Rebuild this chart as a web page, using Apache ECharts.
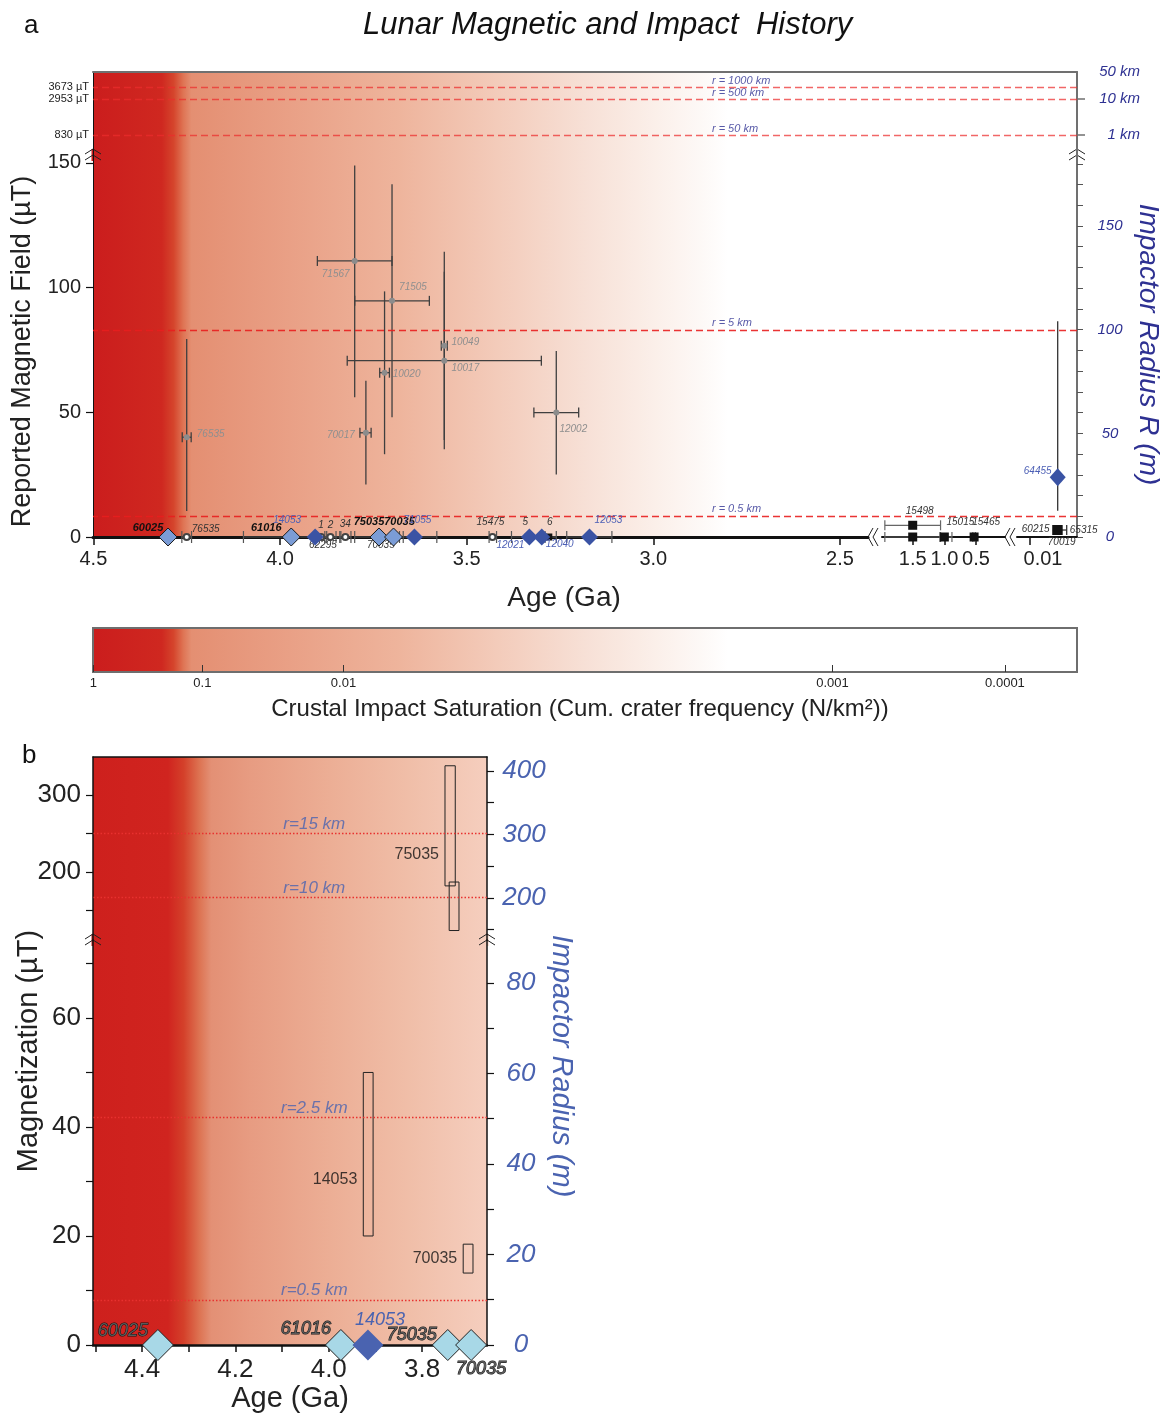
<!DOCTYPE html>
<html>
<head>
<meta charset="utf-8">
<script src="https://cdn.jsdelivr.net/npm/echarts@6/dist/echarts.min.js"></script>
<style>
  html, body { margin: 0; background: #fff; }
  #container { width: 1162px; height: 1414px; }
</style>
</head>
<body>
<div id="container"></div>
<script>
const FONT = 'Liberation Sans, Arial, Helvetica, sans-serif';
const BLUE = '#2e3192';
const BLUE_B = '#4a63b0';

// ---- panel a: samples with a field estimate (age Ga, field uT, error ranges)
const fieldSample = ['71567', '71505', '10049', '10017', '10020', '70017', '12002', '76535'];
const fieldAge = [3.80, 3.70, 3.56, 3.56, 3.72, 3.77, 3.26, 4.25];
const fieldAgeOld = [3.90, 3.80, 3.568, 3.82, 3.733, 3.786, 3.32, 4.262];
const fieldAgeYoung = [3.70, 3.60, 3.552, 3.30, 3.707, 3.756, 3.20, 4.238];
const fieldValue = [110.7, 94.7, 76.7, 70.7, 65.9, 41.8, 49.9, 40.0];
const fieldLow = [56, 48, 38.9, 35.2, 33.2, 21.1, 25.1, 10.4];
const fieldHigh = [149, 141.5, 114.4, 106.4, 98.5, 62.7, 74.6, 79.4];

// ---- panel a: null / weak-field samples sitting at 0 uT
const nullLightSample = ['60025', '61016', '75035', '70035'];
const nullLightAge = [4.30, 3.97, 3.735, 3.696];
const nullDarkSample = ['14053', '71055', '12021', '12040', '12053'];
const nullDarkAge = [3.906, 3.64, 3.332, 3.299, 3.171];
const nullCircleSample = ['76535', '1', '2', '34', '15475'];
const nullCircleAge = [4.25, 3.89, 3.865, 3.825, 3.431];
const nullSquareSample = ['5', '6'];
const nullSquareAge = [3.335, 3.28];
const nullBarOld = [4.263, 4.098, 3.905, 3.88, 3.84, 3.80, 3.68, 3.44, 3.38, 3.30, 3.232];
const nullBarYoung = [4.237, 3.837, 3.875, 3.85, 3.81, 3.67, 3.58, 3.42, 3.29, 3.26, 3.111];
const extraSample = ['62295', '70035'];
const extraAge = [3.885, 3.73];

// ---- panel a: young samples (second and third age segments)
const youngSample = ['15498', '', '15015', '15465'];
const youngAge = [1.5, 1.5, 1.0, 0.53];
const youngField = [4.7, 0, 0, 0];
const youngAgeOld = [1.94, 1.94, 1.07, 0.55];
const youngAgeYoung = [1.06, 1.06, 0.88, 0.51];
const recentSample = ['60215', '70019', '65315'];
const recentAge = [0.002];
const recentField = [2.8];
const recentAgeOld = [0.0034];
const recentAgeYoung = [-0.0006];
const recentDiamond = ['64455'];
const recentDiamondAge = [0.002];
const recentDiamondField = [24];
const recentDiamondLow = [10.5];
const recentDiamondHigh = [86.5];

// ---- panel a: impactor-size field levels
const bigField = [3673, 2953, 830];
const bigRadius = ['r = 1000 km', 'r = 500 km', 'r = 50 km'];
const smallField = [83, 8.3];
const smallRadius = ['r = 5 km', 'r = 0.5 km'];
const kmTickField = [4561, 2953, 830];
const kmTickLabel = ['50 km', '10 km', '1 km'];

// ---- colour bar: cumulative crater frequency against age
const satTickLabel = ['1', '0.1', '0.01', '0.001', '0.0001'];
const satTickAge = [4.5, 4.208, 3.83, 2.52, 2.058];

// ---- panel b
const bLightSample = ['60025', '61016', '75035', '70035'];
const bLightAge = [4.366, 3.974, 3.745, 3.695];
const bDarkSample = ['14053'];
const bDarkAge = [3.916];
const boxSample = ['75035', '', '14053', '70035'];
const boxAgeOld = [3.751, 3.742, 3.926, 3.712];
const boxAgeYoung = [3.729, 3.721, 3.905, 3.691];
const boxLow = [182, 124, 20, 13.2];
const boxHigh = [338, 187, 50, 18.5];
const boxLabelField = [223, 0, 30.3, 15.8];
const bRadiusField = [250, 167.5, 41.7, 8.3];
const bRadiusLabel = ['r=15 km', 'r=10 km', 'r=2.5 km', 'r=0.5 km'];

// ---- layout only (label offsets in px, label anchor ages)
const fieldLabelOffset = [[-19, 13], [21, -14], [21, -4], [21, 8], [22, 2], [-25, 2], [17, 17], [24, -3]];
const nullLightOffset = [[-20, -9], [-25, -9], [-10, -15], [6, -15]];
const nullDarkOffset = [[-28, -17], [3, -17], [-19, 8], [18, 7], [19, -17]];
const nullCircleOffset = [[19, -8], [0, -12], [0, -12], [0, -13], [-2, -15]];
const nullSquareOffset = [[-3, -15], [1, -15]];
const extraOffset = [[0, 8], [0, 8]];
const youngOffset = [[7, -14], [0, 0], [16, -15], [12, -15]];
const recentOffset = [[-22, -1], [4, 12], [26, 0]];
const recentDiamondOffset = [[-20, -6]];
const bLightOffset = [[-35, -14], [-35, -16], [-36, -10], [10, 24]];
const bDarkOffset = [[12, -25]];
const rLabelAgeA = 2.843;
const rLabelAgeB = 4.031;

const pick = (vals, labels) => v =>
  labels[vals.reduce((b, x, i) => (Math.abs(x - v) < Math.abs(vals[b] - v) ? i : b), 0)];

const gradA = new echarts.graphic.LinearGradient(93, 0, 1077, 0, [
  { offset: 0, color: '#cb1d1d' }, { offset: 0.07, color: '#cf2820' },
  { offset: 0.082, color: '#d5452c' }, { offset: 0.092, color: '#df7555' },
  { offset: 0.1, color: '#e48f72' }, { offset: 0.2, color: '#e9a086' },
  { offset: 0.31, color: '#eeb49c' }, { offset: 0.41, color: '#f3cbba' },
  { offset: 0.5, color: '#f7e0d6' }, { offset: 0.57, color: '#fbefe9' },
  { offset: 0.62, color: '#fdf9f7' }, { offset: 0.645, color: '#ffffff' },
  { offset: 1, color: '#ffffff' }
], true);
const gradB = new echarts.graphic.LinearGradient(93, 0, 487, 0, [
  { offset: 0, color: '#ce201d' }, { offset: 0.19, color: '#d0241f' },
  { offset: 0.23, color: '#d4402a' }, { offset: 0.27, color: '#dd7352' },
  { offset: 0.3, color: '#e39075' }, { offset: 0.4, color: '#e79c82' },
  { offset: 0.6, color: '#ecae95' }, { offset: 0.8, color: '#f0bea8' },
  { offset: 1, color: '#f5cebe' }
], true);

const errorBars = (color, width, cap) => (params, api) => {
  const p = api.coord([api.value(0), api.value(1)]);
  const h0 = api.coord([api.value(2), api.value(1)])[0];
  const h1 = api.coord([api.value(3), api.value(1)])[0];
  const v0 = api.coord([api.value(0), api.value(4)])[1];
  const v1 = api.coord([api.value(0), api.value(5)])[1];
  const style = { stroke: color, lineWidth: width };
  const kids = [];
  if (Math.abs(h1 - h0) > 0.5) {
    kids.push({ type: 'line', shape: { x1: h0, y1: p[1], x2: h1, y2: p[1] }, style });
    kids.push({ type: 'line', shape: { x1: h0, y1: p[1] - cap, x2: h0, y2: p[1] + cap }, style });
    kids.push({ type: 'line', shape: { x1: h1, y1: p[1] - cap, x2: h1, y2: p[1] + cap }, style });
  }
  if (Math.abs(v1 - v0) > 0.5) {
    kids.push({ type: 'line', shape: { x1: p[0], y1: v0, x2: p[0], y2: v1 }, style });
  }
  return { type: 'group', children: kids };
};

const boxRender = (params, api) => {
  const a = api.coord([api.value(0), api.value(3)]);
  const b = api.coord([api.value(1), api.value(2)]);
  return {
    type: 'rect',
    shape: { x: a[0], y: a[1], width: b[0] - a[0], height: b[1] - a[1] },
    style: { fill: 'none', stroke: '#222', lineWidth: 1 }
  };
};

const custom = (axes, rows, render, z) => ({
  type: 'custom', xAxisIndex: axes[0], yAxisIndex: axes[1], silent: true, clip: false,
  z: z || 3, encode: { x: 0, y: 1 }, renderItem: render, data: rows
});

const points = (names, ages, fields, offsets, axes, symbol, size, itemStyle, label, z) => ({
  type: 'scatter', xAxisIndex: axes[0], yAxisIndex: axes[1], symbol, symbolSize: size,
  itemStyle: Object.assign({ opacity: 1 }, itemStyle), silent: true, clip: false, z: z || 5,
  label: Object.assign({ show: true, position: 'inside', formatter: '{b}' }, label),
  data: names.map((n, i) => ({ name: n, value: [ages[i], fields[i]], label: { offset: offsets[i] } }))
});

const levelLines = (axes, fields, labels, labelAge, lineStyle, label, offset) => ({
  type: 'scatter', xAxisIndex: axes[0], yAxisIndex: axes[1], symbolSize: 0, silent: true,
  clip: false, z: 4,
  label: Object.assign({ show: true, position: 'inside', formatter: '{b}', offset }, label),
  data: fields.map((v, i) => ({ name: labels[i], value: [labelAge, v] })),
  markLine: {
    silent: true, symbol: 'none', animation: false, label: { show: false },
    lineStyle, data: fields.map(v => ({ yAxis: v }))
  }
});

const zeros = arr => arr.map(() => 0);
const noSplit = { splitLine: { show: false } };
const line = (color, width) => ({ show: true, onZero: false, lineStyle: { color, width } });
const hidden = extra => Object.assign({ type: 'value', show: false, splitLine: { show: false } }, extra);
const nameOnly = extra => Object.assign({
  type: 'value', axisLine: { show: false, onZero: false }, axisTick: { show: false },
  axisLabel: { show: false }, splitLine: { show: false }
}, extra);
const box = (extra) => Object.assign({ outerBoundsMode: 'none', containLabel: false }, extra);

const labGray = { color: '#8f8f8f', fontStyle: 'italic', fontSize: 10 };
const labDark = { color: '#333', fontStyle: 'italic', fontSize: 10 };
const labBold = { color: '#111', fontStyle: 'italic', fontWeight: 'bold', fontSize: 11 };
const labBlue = { color: '#4c5fb5', fontStyle: 'italic', fontSize: 10 };

const segTicks = [4.5, 4.0, 3.5, 3.0, 2.5];
const youngTicks = [1.5, 1.0, 0.5];
const recentTicks = [0.01];
const rTicksA = [0, 10, 20, 30, 40, 50, 60, 70, 80, 90, 100, 110, 120, 130, 140, 150, 160, 170, 180];
const bAgeTicks = [4.5, 4.4, 4.3, 4.2, 4.1, 4.0, 3.9, 3.8, 3.7];

const xTickStyle = { show: true, length: 8, lineStyle: { color: '#111', width: 1.5 } };
const xLab = { fontSize: 20, color: '#222', margin: 12 };

const breakV = (cx, cy, color) => ({
  type: 'group', x: cx, y: cy, z: 100, silent: true,
  children: [
    { type: 'rect', shape: { x: -1.5, y: -6, width: 3, height: 12 }, style: { fill: color } },
    { type: 'polyline', shape: { points: [[-8, -1], [0, -6], [8, -1]] }, style: { stroke: '#222', lineWidth: 1, fill: 'none' } },
    { type: 'polyline', shape: { points: [[-8, 5], [0, 0], [8, 5]] }, style: { stroke: '#222', lineWidth: 1, fill: 'none' } }
  ]
});
const breakH = (cx, cy) => ({
  type: 'group', x: cx, y: cy, z: 100, silent: true,
  children: [
    { type: 'polyline', shape: { points: [[0, -9], [-5, 0], [0, 9]] }, style: { stroke: '#222', lineWidth: 1, fill: 'none' } },
    { type: 'polyline', shape: { points: [[5, -9], [0, 0], [5, 9]] }, style: { stroke: '#222', lineWidth: 1, fill: 'none' } }
  ]
});

const chart = echarts.init(document.getElementById('container'));

const option = {
  animation: false,
  backgroundColor: '#fff',
  textStyle: { fontFamily: FONT },
  title: [
    { text: 'Lunar Magnetic and Impact  History', left: 358, top: 5,
      textStyle: { fontFamily: FONT, fontStyle: 'italic', fontWeight: 'normal', fontSize: 31, color: '#111' } },
    { text: 'a', left: 19, top: 8, textStyle: { fontFamily: FONT, fontWeight: 'normal', fontSize: 26, color: '#111' } },
    { text: 'b', left: 17, top: 738, textStyle: { fontFamily: FONT, fontWeight: 'normal', fontSize: 26, color: '#111' } }
  ],
  grid: [
    box({ left: 93, top: 72, width: 984, height: 80, show: true, backgroundColor: gradA, borderWidth: 0 }),
    box({ left: 93, top: 152, width: 984, height: 385, show: true, backgroundColor: gradA, borderWidth: 0 }),
    box({ left: 93, top: 152, width: 775, height: 385 }),
    box({ left: 882, top: 152, width: 123, height: 385 }),
    box({ left: 1017, top: 152, width: 60, height: 385 }),
    box({ left: 93, top: 628, width: 984, height: 44, show: true, backgroundColor: gradA, borderColor: '#6e6e6e', borderWidth: 2 }),
    box({ left: 93, top: 757, width: 394, height: 183, show: true, backgroundColor: gradB, borderWidth: 0 }),
    box({ left: 93, top: 940, width: 394, height: 405, show: true, backgroundColor: gradB, borderWidth: 0 }),
    box({ left: 93, top: 757, width: 394, height: 588 })
  ],
  xAxis: [
    Object.assign({ type: 'value', gridIndex: 0, min: 1.865, max: 4.501, inverse: true, position: 'top',
      axisLine: line('#707070', 2), axisTick: { show: false }, axisLabel: { show: false } }, noSplit),
    nameOnly({ gridIndex: 1, min: 1.865, max: 4.501, inverse: true,
      name: 'Age (Ga)', nameLocation: 'middle', nameGap: 47,
      nameTextStyle: { fontSize: 28, color: '#222', padding: [0, 42, 0, 0] } }),
    Object.assign({ type: 'value', gridIndex: 2, min: 2.425, max: 4.501, inverse: true,
      axisLine: line('#111', 3),
      axisTick: Object.assign({ customValues: segTicks }, xTickStyle),
      axisLabel: Object.assign({ customValues: segTicks, formatter: v => v.toFixed(1) }, xLab) }, noSplit),
    Object.assign({ type: 'value', gridIndex: 3, min: 0.042, max: 1.985, inverse: true,
      axisLine: line('#111', 2),
      axisTick: Object.assign({ customValues: youngTicks }, xTickStyle),
      axisLabel: Object.assign({ customValues: youngTicks, formatter: v => v.toFixed(1) }, xLab) }, noSplit),
    Object.assign({ type: 'value', gridIndex: 4, min: -0.003576, max: 0.013755, inverse: true,
      axisLine: line('#111', 2),
      axisTick: Object.assign({ customValues: recentTicks }, xTickStyle),
      axisLabel: Object.assign({ customValues: recentTicks, formatter: () => '0.01', padding: [0, 0, 0, 26] }, xLab) }, noSplit),
    Object.assign({ type: 'value', gridIndex: 5, min: 1.865, max: 4.501, inverse: true,
      axisLine: { show: false, onZero: false },
      axisTick: { show: true, inside: true, length: 7, customValues: satTickAge, lineStyle: { color: '#333', width: 1 } },
      axisLabel: { customValues: satTickAge, formatter: pick(satTickAge, satTickLabel), fontSize: 13,
        fontFamily: 'Liberation Sans Narrow, Liberation Sans, Arial', color: '#222', margin: 5 },
      name: 'Crustal Impact Saturation (Cum. crater frequency (N/km\u00b2))', nameLocation: 'middle', nameGap: 25,
      nameTextStyle: { fontSize: 24, color: '#222', padding: [0, 10, 0, 0] } }, noSplit),
    Object.assign({ type: 'value', gridIndex: 6, min: 3.661, max: 4.505, inverse: true, position: 'top',
      axisLine: line('#111', 1.5), axisTick: { show: false }, axisLabel: { show: false } }, noSplit),
    Object.assign({ type: 'value', gridIndex: 7, min: 3.661, max: 4.505, inverse: true,
      axisLine: line('#111', 2.5),
      axisTick: { show: true, length: 7, customValues: bAgeTicks, lineStyle: { color: '#111', width: 1.5 } },
      axisLabel: { customValues: [4.4, 4.2, 4.0, 3.8], formatter: v => v.toFixed(1), fontSize: 26, color: '#222', margin: 12 },
      name: 'Age (Ga)', nameLocation: 'middle', nameGap: 39,
      nameTextStyle: { fontSize: 29, color: '#222' } }, noSplit),
    hidden({ gridIndex: 8, min: 3.661, max: 4.505, inverse: true })
  ],
  yAxis: [
    Object.assign({ type: 'value', gridIndex: 0, min: -177, max: 4561,
      axisLine: line('#111', 1), axisTick: { show: false },
      axisLabel: { customValues: bigField, formatter: v => v + ' \u00b5T', fontSize: 11, color: '#222', margin: 4 } }, noSplit),
    Object.assign({ type: 'value', gridIndex: 0, min: -177, max: 4561, position: 'right',
      axisLine: line('#707070', 2),
      axisTick: { show: true, length: 8, customValues: [2953, 830], lineStyle: { color: '#707070', width: 1.5 } },
      axisLabel: { customValues: kmTickField, formatter: pick(kmTickField, kmTickLabel), align: 'right', margin: 63,
        fontSize: 15, fontStyle: 'italic', color: BLUE } }, noSplit),
    Object.assign({ type: 'value', gridIndex: 1, min: 0, max: 154.4,
      axisLine: line('#111', 1),
      axisTick: { show: true, length: 7, customValues: [0, 50, 100, 150], lineStyle: { color: '#111', width: 1.2 } },
      axisLabel: { customValues: [0, 50, 100, 150], fontSize: 20, color: '#222', margin: 12 },
      name: 'Reported Magnetic Field (\u00b5T)', nameLocation: 'middle', nameGap: 57, nameRotate: 90,
      nameTextStyle: { fontSize: 27, color: '#222', padding: [0, 14, 0, 0] } }, noSplit),
    Object.assign({ type: 'value', gridIndex: 1, min: 0, max: 185.7, position: 'right',
      axisLine: line('#707070', 2),
      axisTick: { show: true, length: 6, customValues: rTicksA, lineStyle: { color: '#555', width: 1 } },
      axisLabel: { customValues: [0, 50, 100, 150], align: 'center', margin: 33,
        fontSize: 15, fontStyle: 'italic', color: BLUE },
      name: 'Impactor Radius R (m)', nameLocation: 'middle', nameGap: 49, nameRotate: -90,
      nameTextStyle: { fontSize: 28, fontStyle: 'italic', color: BLUE } }, noSplit),
    hidden({ gridIndex: 2, min: 0, max: 154.4 }),
    hidden({ gridIndex: 3, min: 0, max: 154.4 }),
    hidden({ gridIndex: 4, min: 0, max: 154.4 }),
    hidden({ gridIndex: 5, min: 0, max: 1 }),
    Object.assign({ type: 'value', gridIndex: 6, min: 111.7, max: 349.4,
      axisLine: line('#111', 1.5),
      axisTick: { show: true, length: 7, customValues: [150, 200, 250, 300], lineStyle: { color: '#111', width: 1.2 } },
      axisLabel: { customValues: [200, 300], fontSize: 26, color: '#222', margin: 12 } }, noSplit),
    Object.assign({ type: 'value', gridIndex: 6, min: 133.8, max: 422, position: 'right',
      axisLine: line('#111', 1.5),
      axisTick: { show: true, length: 7, customValues: [150, 200, 250, 300, 350, 400], lineStyle: { color: '#111', width: 1.2 } },
      axisLabel: { customValues: [200, 300, 400], align: 'center', margin: 37,
        fontSize: 26, fontStyle: 'italic', color: BLUE_B } }, noSplit),
    Object.assign({ type: 'value', gridIndex: 7, min: 0, max: 74.3,
      axisLine: line('#111', 1.5),
      axisTick: { show: true, length: 7, customValues: [0, 10, 20, 30, 40, 50, 60, 70], lineStyle: { color: '#111', width: 1.2 } },
      axisLabel: { customValues: [0, 20, 40, 60], fontSize: 26, color: '#222', margin: 12 } }, noSplit),
    Object.assign({ type: 'value', gridIndex: 7, min: 0, max: 89.5, position: 'right',
      axisLine: line('#111', 1.5),
      axisTick: { show: true, length: 7, customValues: [0, 10, 20, 30, 40, 50, 60, 70, 80], lineStyle: { color: '#111', width: 1.2 } },
      axisLabel: { customValues: [0, 20, 40, 60, 80], align: 'center', margin: 34,
        fontSize: 26, fontStyle: 'italic', color: BLUE_B } }, noSplit),
    nameOnly({ gridIndex: 8, min: 0, max: 1, name: 'Magnetization (\u00b5T)', nameLocation: 'middle',
      nameGap: 50, nameRotate: 90, nameTextStyle: { fontSize: 29, color: '#222' } }),
    nameOnly({ gridIndex: 8, min: 0, max: 1, position: 'right', name: 'Impactor Radius (m)', nameLocation: 'middle',
      nameGap: 60, nameRotate: -90, nameTextStyle: { fontSize: 29, fontStyle: 'italic', color: BLUE_B, padding: [0, 0, 0, 30] } })
  ],
  series: [
    // impact-size levels, panel a
    levelLines([0, 0], bigField, bigRadius, rLabelAgeA,
      { color: 'rgba(236,45,45,0.72)', type: [7, 4], width: 1.3 },
      { align: 'left', fontSize: 11, fontStyle: 'italic', color: BLUE }, [0, -6]),
    levelLines([1, 2], smallField, smallRadius, rLabelAgeA,
      { color: 'rgba(232,30,30,0.9)', type: [7, 4], width: 1.3 },
      { align: 'left', fontSize: 11, fontStyle: 'italic', color: BLUE }, [0, -7]),

    // field estimates with age and field ranges
    custom([2, 4], fieldSample.map((s, i) =>
      [fieldAge[i], fieldValue[i], fieldAgeOld[i], fieldAgeYoung[i], fieldLow[i], fieldHigh[i]]),
      errorBars('#3f3f3f', 1.3, 5)),
    points(fieldSample, fieldAge, fieldValue, fieldLabelOffset, [2, 4], 'circle', 6,
      { color: '#8c8c8c' }, labGray),

    // null-field row
    custom([2, 4], nullBarOld.map((o, i) =>
      [(o + nullBarYoung[i]) / 2, 0, o, nullBarYoung[i], 0, 0]), errorBars('#555', 1.2, 6)),
    points(nullCircleSample, nullCircleAge, zeros(nullCircleAge), nullCircleOffset, [2, 4], 'emptyCircle', 6,
      { color: '#444', borderWidth: 1 }, labDark),
    points(nullSquareSample, nullSquareAge, zeros(nullSquareAge), nullSquareOffset, [2, 4], 'rect', 7,
      { color: '#111' }, labDark),
    points(extraSample, extraAge, zeros(extraAge), extraOffset, [2, 4], 'circle', 0, {}, labDark),
    points(nullLightSample, nullLightAge, zeros(nullLightAge), nullLightOffset, [2, 4], 'diamond', 18,
      { color: '#7b9cd6', borderColor: '#1a1a1a', borderWidth: 1 }, labBold, 6),
    points(nullDarkSample, nullDarkAge, zeros(nullDarkAge), nullDarkOffset, [2, 4], 'diamond', 17,
      { color: '#3a53a4' }, labBlue, 7),

    // young samples
    custom([3, 5], youngSample.map((s, i) =>
      [youngAge[i], youngField[i], youngAgeOld[i], youngAgeYoung[i], youngField[i], youngField[i]]),
      errorBars('#666', 1.2, 5)),
    points(youngSample, youngAge, youngField, youngOffset, [3, 5], 'rect', 9, { color: '#111' }, labDark),
    custom([4, 6], [
      [recentAge[0], recentField[0], recentAgeOld[0], recentAgeYoung[0], recentField[0], recentField[0]],
      [recentDiamondAge[0], recentDiamondField[0], recentDiamondAge[0], recentDiamondAge[0], recentDiamondLow[0], recentDiamondHigh[0]]
    ], errorBars('#333', 1.3, 5)),
    points([''], recentAge, recentField, [[0, 0]], [4, 6], 'rect', 10, { color: '#111' }, labDark),
    points(recentSample, recentSample.map(() => recentAge[0]), recentSample.map(() => recentField[0]),
      recentOffset, [4, 6], 'circle', 0, {}, labDark),
    points(recentDiamond, recentDiamondAge, recentDiamondField, recentDiamondOffset, [4, 6], 'diamond', [16, 18],
      { color: '#3a53a4' }, labBlue, 7),

    // panel b
    levelLines([6, 8], bRadiusField.slice(0, 2), bRadiusLabel.slice(0, 2), rLabelAgeB,
      { color: '#e8312f', type: [1.5, 2], width: 1.3 },
      { fontSize: 17, fontStyle: 'italic', color: BLUE_B }, [0, -9]),
    levelLines([7, 10], bRadiusField.slice(2), bRadiusLabel.slice(2), rLabelAgeB,
      { color: '#e8312f', type: [1.5, 2], width: 1.3 },
      { fontSize: 17, fontStyle: 'italic', color: BLUE_B }, [0, -9]),
    custom([6, 8], [0, 1].map(i => [boxAgeOld[i], boxAgeYoung[i], boxLow[i], boxHigh[i]]), boxRender),
    custom([7, 10], [2, 3].map(i => [boxAgeOld[i], boxAgeYoung[i], boxLow[i], boxHigh[i]]), boxRender),
    {
      type: 'scatter', xAxisIndex: 6, yAxisIndex: 8, symbolSize: 0, silent: true, clip: false,
      label: { show: true, position: 'left', distance: 6, formatter: '{b}', fontSize: 16, color: '#111' },
      data: [{ name: boxSample[0], value: [boxAgeOld[0], boxLabelField[0]] }]
    },
    {
      type: 'scatter', xAxisIndex: 7, yAxisIndex: 10, symbolSize: 0, silent: true, clip: false,
      label: { show: true, position: 'left', distance: 6, formatter: '{b}', fontSize: 16, color: '#111' },
      data: [2, 3].map(i => ({ name: boxSample[i], value: [boxAgeOld[i], boxLabelField[i]] }))
    },
    points(bLightSample, bLightAge, zeros(bLightAge), bLightOffset, [7, 10], 'diamond', 31,
      { color: '#a8d8e7', borderColor: '#222', borderWidth: 1 },
      { fontSize: 18, fontStyle: 'italic', color: '#5a5a5a', textBorderColor: '#111', textBorderWidth: 1 }, 6),
    points(bDarkSample, bDarkAge, zeros(bDarkAge), bDarkOffset, [7, 10], 'diamond', 31,
      { color: BLUE_B }, { fontSize: 18, fontStyle: 'italic', color: BLUE_B }, 7)
  ],
  graphic: [
    breakV(93, 155, '#cc1e1e'), breakV(1077, 155, '#ffffff'),
    breakH(873, 537), breakH(1010, 537),
    breakV(93, 940, '#ce201d'), breakV(487, 940, '#f5cebe')
  ]
};

chart.setOption(option);
</script>
</body>
</html>
